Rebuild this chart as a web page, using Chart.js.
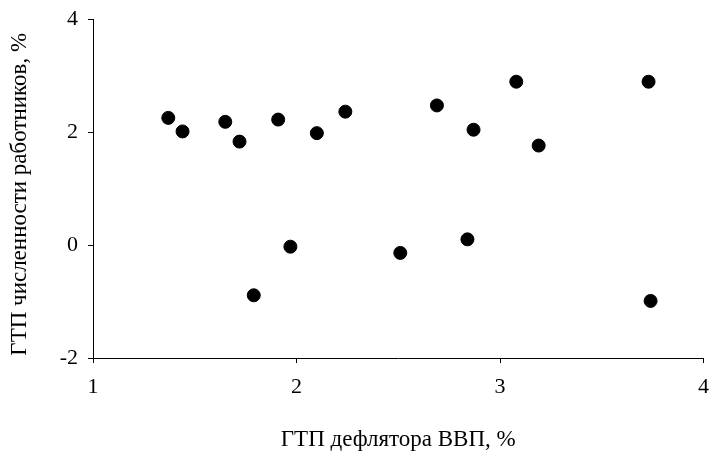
<!DOCTYPE html>
<html>
<head>
<meta charset="utf-8">
<script src="https://cdn.jsdelivr.net/npm/chart.js@4/dist/chart.umd.min.js"></script>
<style>
  html, body { margin: 0; padding: 0; background: #fff; }
  #wrap { width: 711px; height: 451px; }
</style>
</head>
<body>
<div id="wrap"><canvas id="chart"></canvas></div>
<script>
// ГТП дефлятора ВВП, % (x) vs ГТП численности работников, % (y)
const deflatorGrowth = [1.37, 1.44, 1.65, 1.72, 1.91, 2.10, 2.24, 2.69, 2.87, 3.08, 3.19, 3.73, 1.97, 1.79, 2.51, 2.84, 3.74];
const employmentGrowth = [2.25, 2.01, 2.18, 1.83, 2.22, 1.98, 2.36, 2.47, 2.04, 2.89, 1.76, 2.89, -0.03, -0.89, -0.14, 0.10, -0.99];

const xTitle = 'ГТП дефлятора ВВП, %';
const yTitle = 'ГТП численности работников, %\u00A0\u00A0';

const points = deflatorGrowth.map((x, i) => ({ x: x, y: employmentGrowth[i] }));

const font = 'Liberation Serif, Times New Roman, serif';

new Chart(document.getElementById('chart'), {
    type: 'scatter',
    data: {
        datasets: [{
            data: points,
            backgroundColor: '#000',
            borderColor: '#000',
            pointRadius: 6.5,
            pointHoverRadius: 6.5
        }]
    },
    options: {
        responsive: true,
        maintainAspectRatio: false,
        animation: false,
        layout: { padding: { top: 19, right: 5, left: 0, bottom: 0 } },
        plugins: { legend: { display: false }, tooltip: { enabled: false } },
        scales: {
            x: {
                type: 'linear',
                min: 1,
                max: 4,
                ticks: { stepSize: 1, color: '#000', font: { family: font, size: 22 }, padding: 11 },
                grid: { drawOnChartArea: false, tickLength: 5, color: '#000', tickColor: '#000' },
                border: { color: '#000', width: 1 },
                title: { display: true, text: xTitle, color: '#000', font: { family: font, size: 23, lineHeight: 1 }, padding: { top: 0, bottom: 0 } },
                afterFit: scale => {
                    scale.height = 93;
                    // keep the end labels from shrinking the plot
                    scale.paddingLeft = 0;
                    scale.paddingRight = 0;
                }
            },
            y: {
                min: -2,
                max: 4,
                ticks: { stepSize: 2, color: '#000', font: { family: font, size: 22 }, padding: 10 },
                grid: { drawOnChartArea: false, tickLength: 5, color: '#000', tickColor: '#000' },
                border: { color: '#000', width: 1 },
                title: { display: true, text: yTitle, color: '#000', font: { family: font, size: 23, lineHeight: 1 }, padding: { top: 8, bottom: 0 } },
                afterFit: scale => {
                    scale.width = 93;
                    scale.paddingTop = 0;
                    scale.paddingBottom = 0;
                }
            }
        }
    }
});
</script>
</body>
</html>
